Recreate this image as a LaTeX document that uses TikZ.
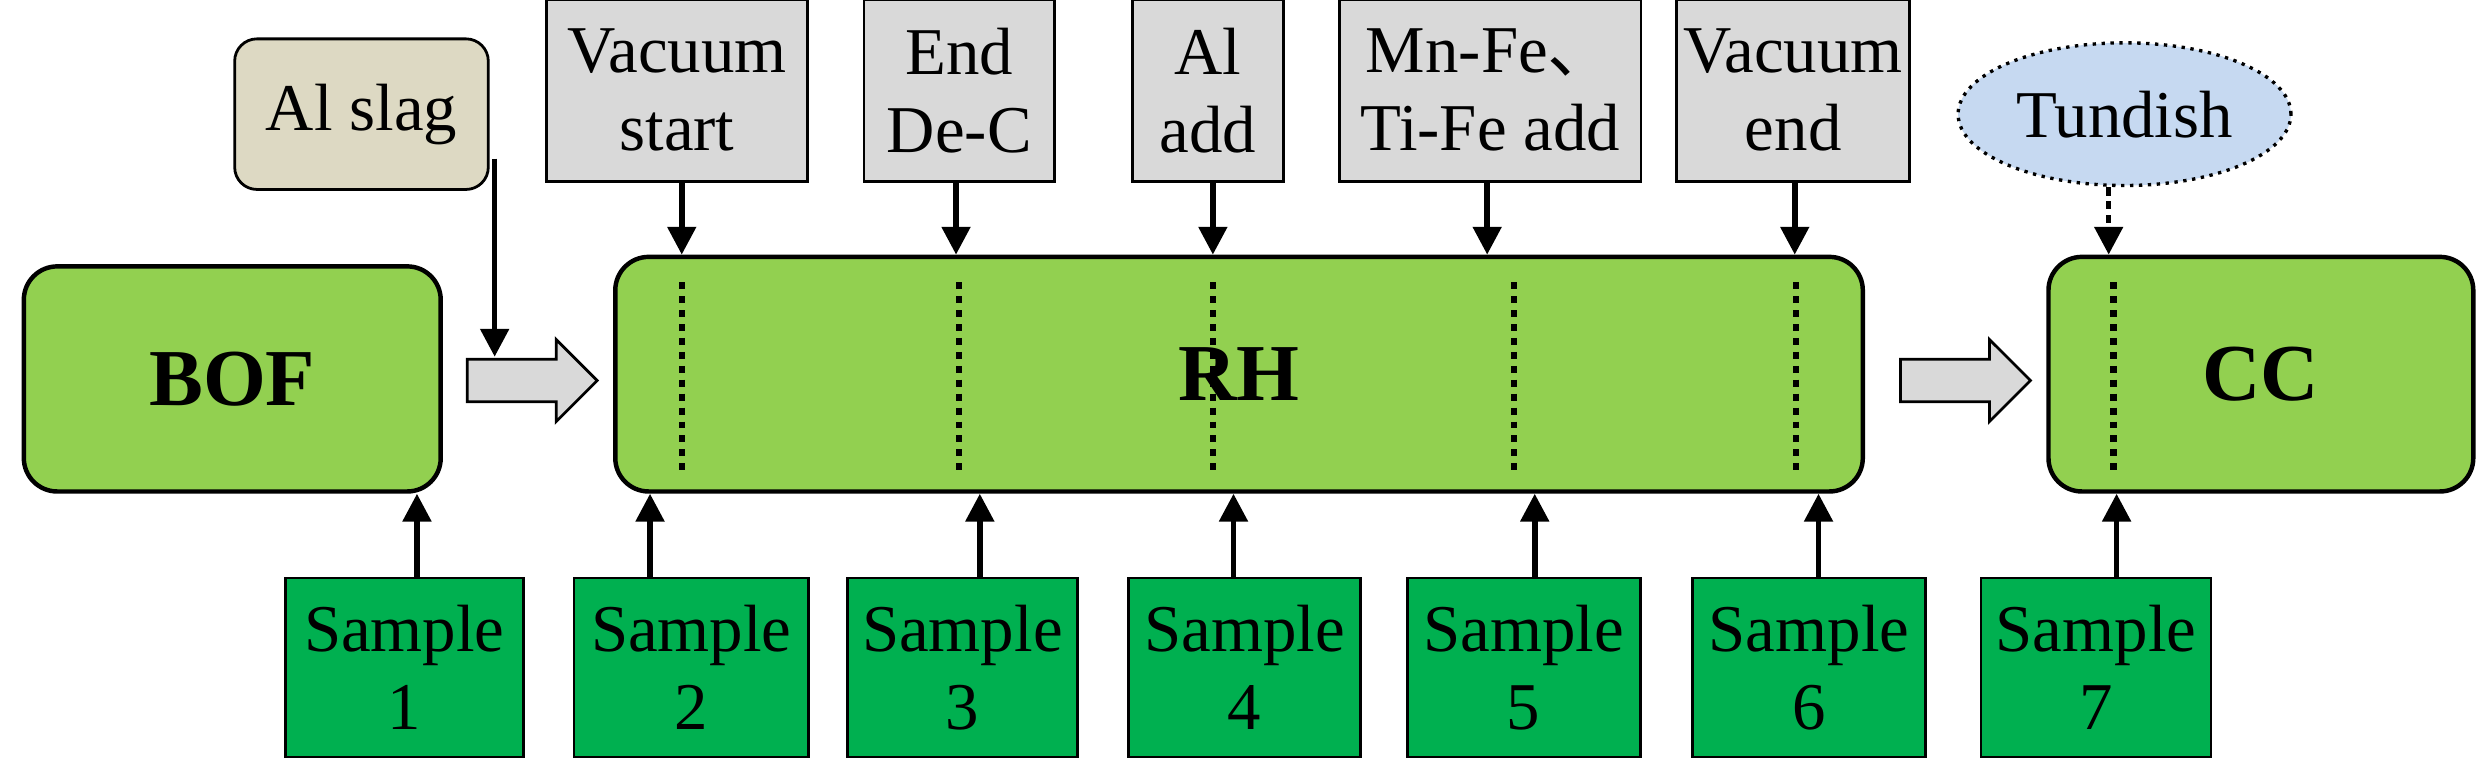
\documentclass[tikz,border=0pt]{standalone}
\usepackage{fontspec}
\setmainfont{Liberation Serif}
\newfontfamily\cjk{Noto Sans CJK SC}
\usetikzlibrary{shapes.geometric,shapes.arrows,arrows.meta}
\definecolor{lg}{HTML}{92D050}
\definecolor{dg}{HTML}{00B050}
\definecolor{gr}{HTML}{D9D9D9}
\definecolor{bg}{HTML}{DDD9C3}
\definecolor{lb}{HTML}{C6D9F1}
\begin{document}
\begin{tikzpicture}[x=0.02cm,y=-0.02cm,
 txt/.style={font=\fontsize{24}{28}\selectfont,align=center},
 main/.style={draw,line width=1.6pt,fill=lg,rounded corners=12pt,font=\fontsize{29}{33}\selectfont\bfseries},
 top/.style={draw,line width=1pt,fill=gr,txt,inner sep=0pt},
 smp/.style={draw,line width=1pt,fill=dg,txt,inner sep=0pt},
 arr/.style={line width=2pt,-{Triangle[length=10pt,width=10pt]}},
 dots/.style={line width=2.2pt,dash pattern=on 2.5pt off 2.5pt},
 hol/.style={single arrow,draw,fill=gr,line width=1pt,minimum height=1.64cm,minimum width=0.95cm,inner sep=0.25cm,text width=0pt,text height=0pt,text depth=0pt}]
\useasboundingbox (0,0) rectangle (1568,491);
\node[main,minimum width=5.26cm,minimum height=2.84cm] (bof) at (146.5,239) {BOF};
\node[main,minimum width=15.74cm,minimum height=2.96cm] (rh) at (781.5,236) {RH};
\node[main,minimum width=5.36cm,minimum height=2.96cm] (cc) at (1426,236) {CC};
\node[hol] (a1) at (329,240) {};
\node[hol] (a2) at (1233,240) {};
\node[draw,line width=1pt,fill=bg,rounded corners=8pt,txt,minimum width=3.2cm,minimum height=1.9cm] (al) at (228,72) {Al slag};
\coordinate (alo) at (312,100);
\coordinate (ali) at (312,225);
\draw[arr] (alo) -- (ali);
\node[top,minimum width=3.3cm,minimum height=2.3cm] (t1) at (427,57) {Vacuum\\start};
\node[top,minimum width=2.4cm,minimum height=2.3cm] (t2) at (605,57) {End\\De-C};
\node[top,minimum width=1.9cm,minimum height=2.3cm] (t3) at (762,57) {Al\\add};
\node[top,minimum width=3.8cm,minimum height=2.3cm] (t4) at (940,57) {Mn-Fe{\cjk 、}\\Ti-Fe add};
\node[top,minimum width=2.94cm,minimum height=2.3cm] (t5) at (1131,57) {Vacuum\\end};
\node[ellipse,draw,dotted,line width=1.2pt,fill=lb,txt,minimum width=4cm,minimum height=1.8cm] (tu) at (1340,72) {Tundish};
\foreach \t/\x in {t1/430,t2/603,t3/765,t4/938,t5/1132}{
 \draw[arr] (\t.south -| \x,0) -- (rh.north -| \x,0);}
\draw[arr,dash pattern=on 3pt off 2pt] (tu.south -| 1330,0) -- (cc.north -| 1330,0);
\foreach \x in {430,605,765,955,1133}{\draw[dots] (\x,178) -- (\x,298);}
\draw[dots] (1333,178) -- (1333,298);
\foreach \n/\c/\w/\b/\x in {1/255/3.0/bof/263,2/436/2.96/rh/410,3/607/2.9/rh/618,4/785/2.92/rh/778,5/961/2.94/rh/968,6/1141/2.94/rh/1147,7/1322/2.9/cc/1335}{
 \node[smp,minimum width=\w cm,minimum height=2.26cm] (s\n) at (\c,421) {Sample\\\n};
 \draw[arr] (s\n.north -| \x,0) -- (\b.south -| \x,0);}
\end{tikzpicture}
\end{document}
